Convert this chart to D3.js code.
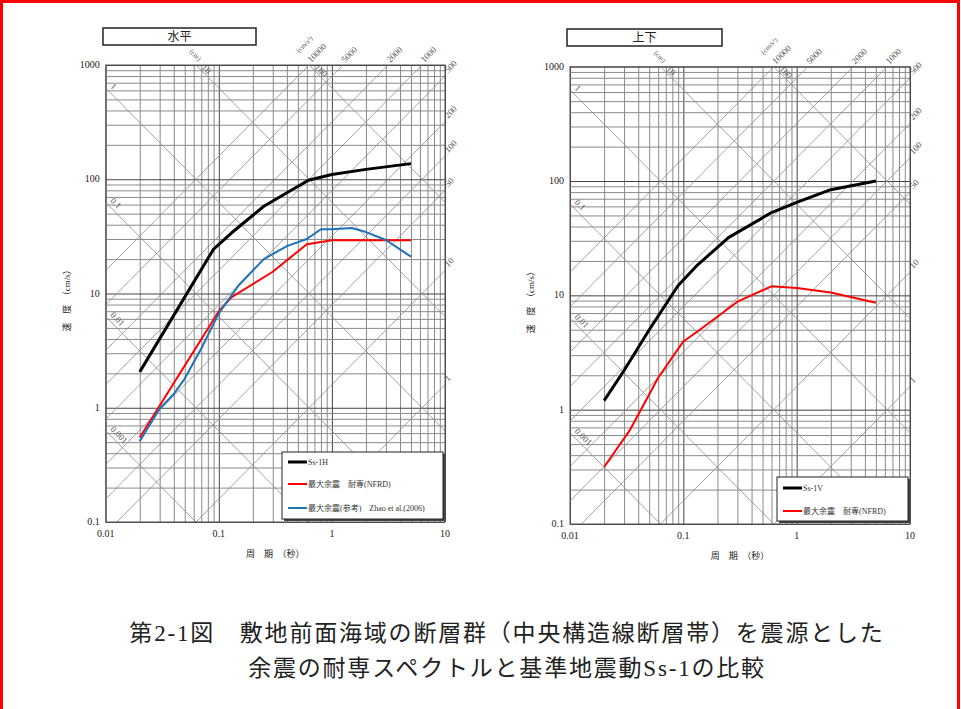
<!DOCTYPE html>
<html>
<head>
<meta charset="utf-8">
<script src="https://cdn.jsdelivr.net/npm/d3@7"></script>
<style>
  body { margin: 0; background: #fff; }
</style>
</head>
<body>
<div id="chart"></div>
<script>
// 水平
const periodH_ss = [0.02, 0.09, 0.13, 0.25, 0.62, 1.0, 2.0, 5.0];
const velH_ss = [2.06, 24.5, 34, 58, 98, 110, 122, 137];
const periodH_nfrd = [0.02, 0.1, 0.13, 0.3, 0.6, 1.0, 2.0, 5.0];
const velH_nfrd = [0.55, 7.0, 9.3, 15.5, 27, 29.3, 29.3, 29.3];
const periodH_zhao = [0.02, 0.03, 0.04, 0.05, 0.07, 0.1, 0.15, 0.25, 0.4, 0.6, 0.8, 1.0, 1.5, 2.0, 3.0, 5.0];
const velH_zhao = [0.51, 0.98, 1.32, 1.8, 3.3, 6.7, 11.8, 20, 26, 30, 36.5, 36.5, 37.5, 34.5, 29.4, 21];
// 上下
const periodV_ss = [0.02, 0.03, 0.05, 0.09, 0.13, 0.25, 0.6, 1.0, 2.0, 5.0];
const velV_ss = [1.2, 2.2, 5.0, 12.2, 18, 32, 53, 65, 84, 100];
const periodV_nfrd = [0.02, 0.034, 0.06, 0.09, 0.1, 0.14, 0.3, 0.6, 1.0, 2.0, 5.0];
const velV_nfrd = [0.315, 0.67, 1.9, 3.4, 3.95, 5.0, 8.8, 12, 11.6, 10.6, 8.6];

const periodTicks = [0.01, 0.1, 1, 10];
const periodTickLabels = ["0.01", "0.1", "1", "10"];
const velTicks = [0.1, 1, 10, 100, 1000];
const velTickLabels = ["0.1", "1", "10", "100", "1000"];
const dispLines = [0.001, 0.01, 0.1, 1, 10, 100];          // cm
const dispLeftLabels = [1, 0.1, 0.01, 0.001];
const dispTopLabels = [10, 100];
const accLines = [1, 10, 50, 100, 200, 500, 1000, 2000, 5000, 10000]; // cm/s2
const accTopLabels = [10000, 5000, 2000, 1000];
const accRightLabels = [500, 200, 100, 50, 10, 1];

const legendH = ["Ss-1H", "最大余震　耐専(NFRD)", "最大余震(参考)　Zhao et al.(2006)"];
const legendV = ["Ss-1V", "最大余震　耐専(NFRD)"];

const width = 961;
const height = 709;
const TWO_PI = 2 * Math.PI;

const svg = d3.select("#chart")
  .append("svg")
  .attr("width", width)
  .attr("height", height)
  .style("background", "#fff");

const defs = svg.append("defs");
const tickFont = "'Liberation Serif', 'DejaVu Serif', serif";
const jpFont = "'Liberation Serif', 'Noto Sans CJK JP', sans-serif";

// grid values 1..9 per decade
function logGrid(from, to) {
  const out = [];
  for (let d = from; d < to * 0.999; d *= 10) {
    for (let k = 1; k <= 9; k++) out.push(+(k * d).toPrecision(3));
  }
  out.push(to);
  return out;
}

function drawPanel(p) {
  const x = d3.scaleLog().domain([0.01, 10]).range([0, p.w]);
  const y = d3.scaleLog().domain([0.1, 1000]).range([p.h, 0]);

  const g = svg.append("g").attr("transform", `translate(${p.left},${p.top})`);

  defs.append("clipPath").attr("id", p.id + "-clip")
    .append("rect").attr("width", p.w).attr("height", p.h);

  // vertical grid
  const gx = g.append("g")
    .call(d3.axisBottom(x).tickValues(logGrid(0.01, 10)).tickSize(p.h).tickFormat(""));
  gx.select(".domain").remove();
  gx.selectAll("line")
    .attr("stroke", (d) => periodTicks.includes(d) ? "#444" : "#8a8a8a")
    .attr("stroke-width", 1);

  // horizontal grid
  const gy = g.append("g")
    .call(d3.axisLeft(y).tickValues(logGrid(0.1, 1000)).tickSize(-p.w).tickFormat(""));
  gy.select(".domain").remove();
  gy.selectAll("line")
    .attr("stroke", (d) => velTicks.includes(d) ? "#444" : "#8a8a8a")
    .attr("stroke-width", 1);

  // diagonal lines (displacement / acceleration)
  const diag = g.append("g").attr("clip-path", `url(#${p.id}-clip)`);
  diag.selectAll(".disp")
    .data(dispLines)
    .enter()
    .append("line")
    .attr("x1", x(0.001)).attr("y1", (D) => y(TWO_PI * D / 0.001))
    .attr("x2", x(10)).attr("y2", (D) => y(TWO_PI * D / 10))
    .attr("stroke", "#8c8c8c").attr("stroke-width", 0.8);
  diag.selectAll(".acc")
    .data(accLines)
    .enter()
    .append("line")
    .attr("x1", x(0.001)).attr("y1", (A) => y(A * 0.001 / TWO_PI))
    .attr("x2", x(10)).attr("y2", (A) => y(A * 10 / TWO_PI))
    .attr("stroke", "#8c8c8c").attr("stroke-width", 0.8);

  // frame
  g.append("rect")
    .attr("width", p.w).attr("height", p.h)
    .attr("fill", "none").attr("stroke", "#555").attr("stroke-width", 1);

  // diagonal labels
  const lab = g.append("g")
    .attr("fill", "#555")
    .style("font-family", tickFont)
    .style("font-size", "9px");
  dispLeftLabels.forEach((D) => {
    const yy = y(TWO_PI * D / 0.01);
    lab.append("text")
      .attr("transform", `translate(${4},${yy - 1}) rotate(45)`)
      .text(String(D));
  });
  dispTopLabels.forEach((D) => {
    const xx = x(TWO_PI * D / 1000);
    lab.append("text")
      .attr("transform", `translate(${xx + 5},${3}) rotate(45)`)
      .text(String(D));
  });
  lab.append("text")
    .attr("transform", `translate(${x(TWO_PI * 10 / 1000) - 7},${-13}) rotate(45)`)
    .style("font-size", "7px")
    .text("(cm)");
  accTopLabels.forEach((A) => {
    const xx = x(TWO_PI * 1000 / A);
    lab.append("text")
      .attr("transform", `translate(${xx + 2},${-2}) rotate(-45)`)
      .text(String(A));
  });
  lab.append("text")
    .attr("transform", `translate(${x(TWO_PI * 1000 / 10000) - 10},${-12}) rotate(-45)`)
    .style("font-size", "7px")
    .text("(cm/s²)");
  accRightLabels.forEach((A) => {
    const yy = y(A * 10 / TWO_PI);
    lab.append("text")
      .attr("transform", `translate(${p.w + 3},${yy - 3}) rotate(-45)`)
      .text(String(A));
  });

  // curves
  const line = d3.line().x((d) => x(d[0])).y((d) => y(d[1]));
  p.series.forEach((s) => {
    g.append("path")
      .datum(d3.zip(s.period, s.vel))
      .attr("d", line)
      .attr("fill", "none")
      .attr("stroke", s.color)
      .attr("stroke-width", s.width)
      .attr("stroke-linejoin", "round");
  });

  // tick labels
  const tl = g.append("g")
    .attr("fill", "#222")
    .style("font-family", tickFont)
    .style("font-size", "10px");
  periodTicks.forEach((t, i) => {
    tl.append("text")
      .attr("x", x(t)).attr("y", p.h + 15)
      .attr("text-anchor", "middle")
      .text(periodTickLabels[i]);
  });
  velTicks.forEach((v, i) => {
    tl.append("text")
      .attr("x", -6).attr("y", y(v) + 3)
      .attr("text-anchor", "end")
      .text(velTickLabels[i]);
  });

  // axis titles
  g.append("text")
    .attr("x", p.w / 2).attr("y", p.h + 35)
    .attr("text-anchor", "middle")
    .attr("fill", "#222")
    .style("font-family", jpFont)
    .style("font-size", "9px")
    .text("周　期　（秒）");
  g.append("text")
    .attr("transform", "rotate(-90)")
    .attr("x", -(p.h / 2 + 5)).attr("y", -36)
    .attr("text-anchor", "middle")
    .attr("fill", "#222")
    .style("font-family", jpFont)
    .style("font-size", "9px")
    .text("速　度　（cm/s）");

  // legend
  const lg = g.append("g").attr("transform", `translate(${p.legend.x},${p.legend.y})`);
  lg.append("rect")
    .attr("x", 2).attr("y", 2)
    .attr("width", p.legend.w).attr("height", p.legend.h)
    .attr("fill", "#444");
  lg.append("rect")
    .attr("width", p.legend.w).attr("height", p.legend.h)
    .attr("fill", "#fff").attr("stroke", "#222").attr("stroke-width", 1);
  p.series.forEach((s, i) => {
    const yy = p.legend.rows[i];
    lg.append("line")
      .attr("x1", 6).attr("x2", 25)
      .attr("y1", yy).attr("y2", yy)
      .attr("stroke", s.color).attr("stroke-width", s.width);
    lg.append("text")
      .attr("x", 26).attr("y", yy + 3)
      .attr("fill", "#333")
      .style("font-family", jpFont)
      .style("font-size", "8px")
      .text(s.label);
  });

  // title box
  svg.append("rect")
    .attr("x", p.title.x).attr("y", p.title.y)
    .attr("width", p.title.w).attr("height", 17)
    .attr("fill", "#fff").attr("stroke", "#222").attr("stroke-width", 1.5);
  svg.append("text")
    .attr("x", p.title.x + p.title.w / 2).attr("y", p.title.y + 13)
    .attr("text-anchor", "middle")
    .attr("fill", "#222")
    .style("font-family", jpFont)
    .style("font-size", "12px")
    .text(p.title.text);
}

drawPanel({
  id: "h", left: 105.7, top: 65, w: 339.3, h: 457,
  title: { x: 103, y: 28, w: 153, text: "水平" },
  legend: { x: 176.3, y: 387, w: 161, h: 67, rows: [10, 32, 56] },
  series: [
    { period: periodH_ss, vel: velH_ss, color: "#000", width: 3, label: legendH[0] },
    { period: periodH_nfrd, vel: velH_nfrd, color: "#ff0000", width: 2, label: legendH[1] },
    { period: periodH_zhao, vel: velH_zhao, color: "#1f72b8", width: 2, label: legendH[2] }
  ]
});

drawPanel({
  id: "v", left: 570, top: 66.7, w: 340, h: 457.3,
  title: { x: 567, y: 29, w: 155, text: "上下" },
  legend: { x: 207, y: 410.3, w: 131, h: 44, rows: [11, 34] },
  series: [
    { period: periodV_ss, vel: velV_ss, color: "#000", width: 3, label: legendV[0] },
    { period: periodV_nfrd, vel: velV_nfrd, color: "#ff0000", width: 2, label: legendV[1] }
  ]
});

// caption
const caption = ["第2-1図　敷地前面海域の断層群（中央構造線断層帯）を震源とした",
  "余震の耐専スペクトルと基準地震動Ss-1の比較"];
caption.forEach((t, i) => {
  svg.append("text")
    .attr("x", 507).attr("y", 641 + i * 35)
    .attr("text-anchor", "middle")
    .attr("fill", "#222")
    .style("font-family", jpFont)
    .style("font-size", "23px")
    .style("letter-spacing", "1.8px")
    .text(t);
});

// red border
svg.append("path")
  .attr("d", `M1.5,${height} V1.5 H${width - 2.5} V${height}`)
  .attr("fill", "none")
  .attr("stroke", "#ff0000")
  .attr("stroke-width", 3);
</script>
</body>
</html>
